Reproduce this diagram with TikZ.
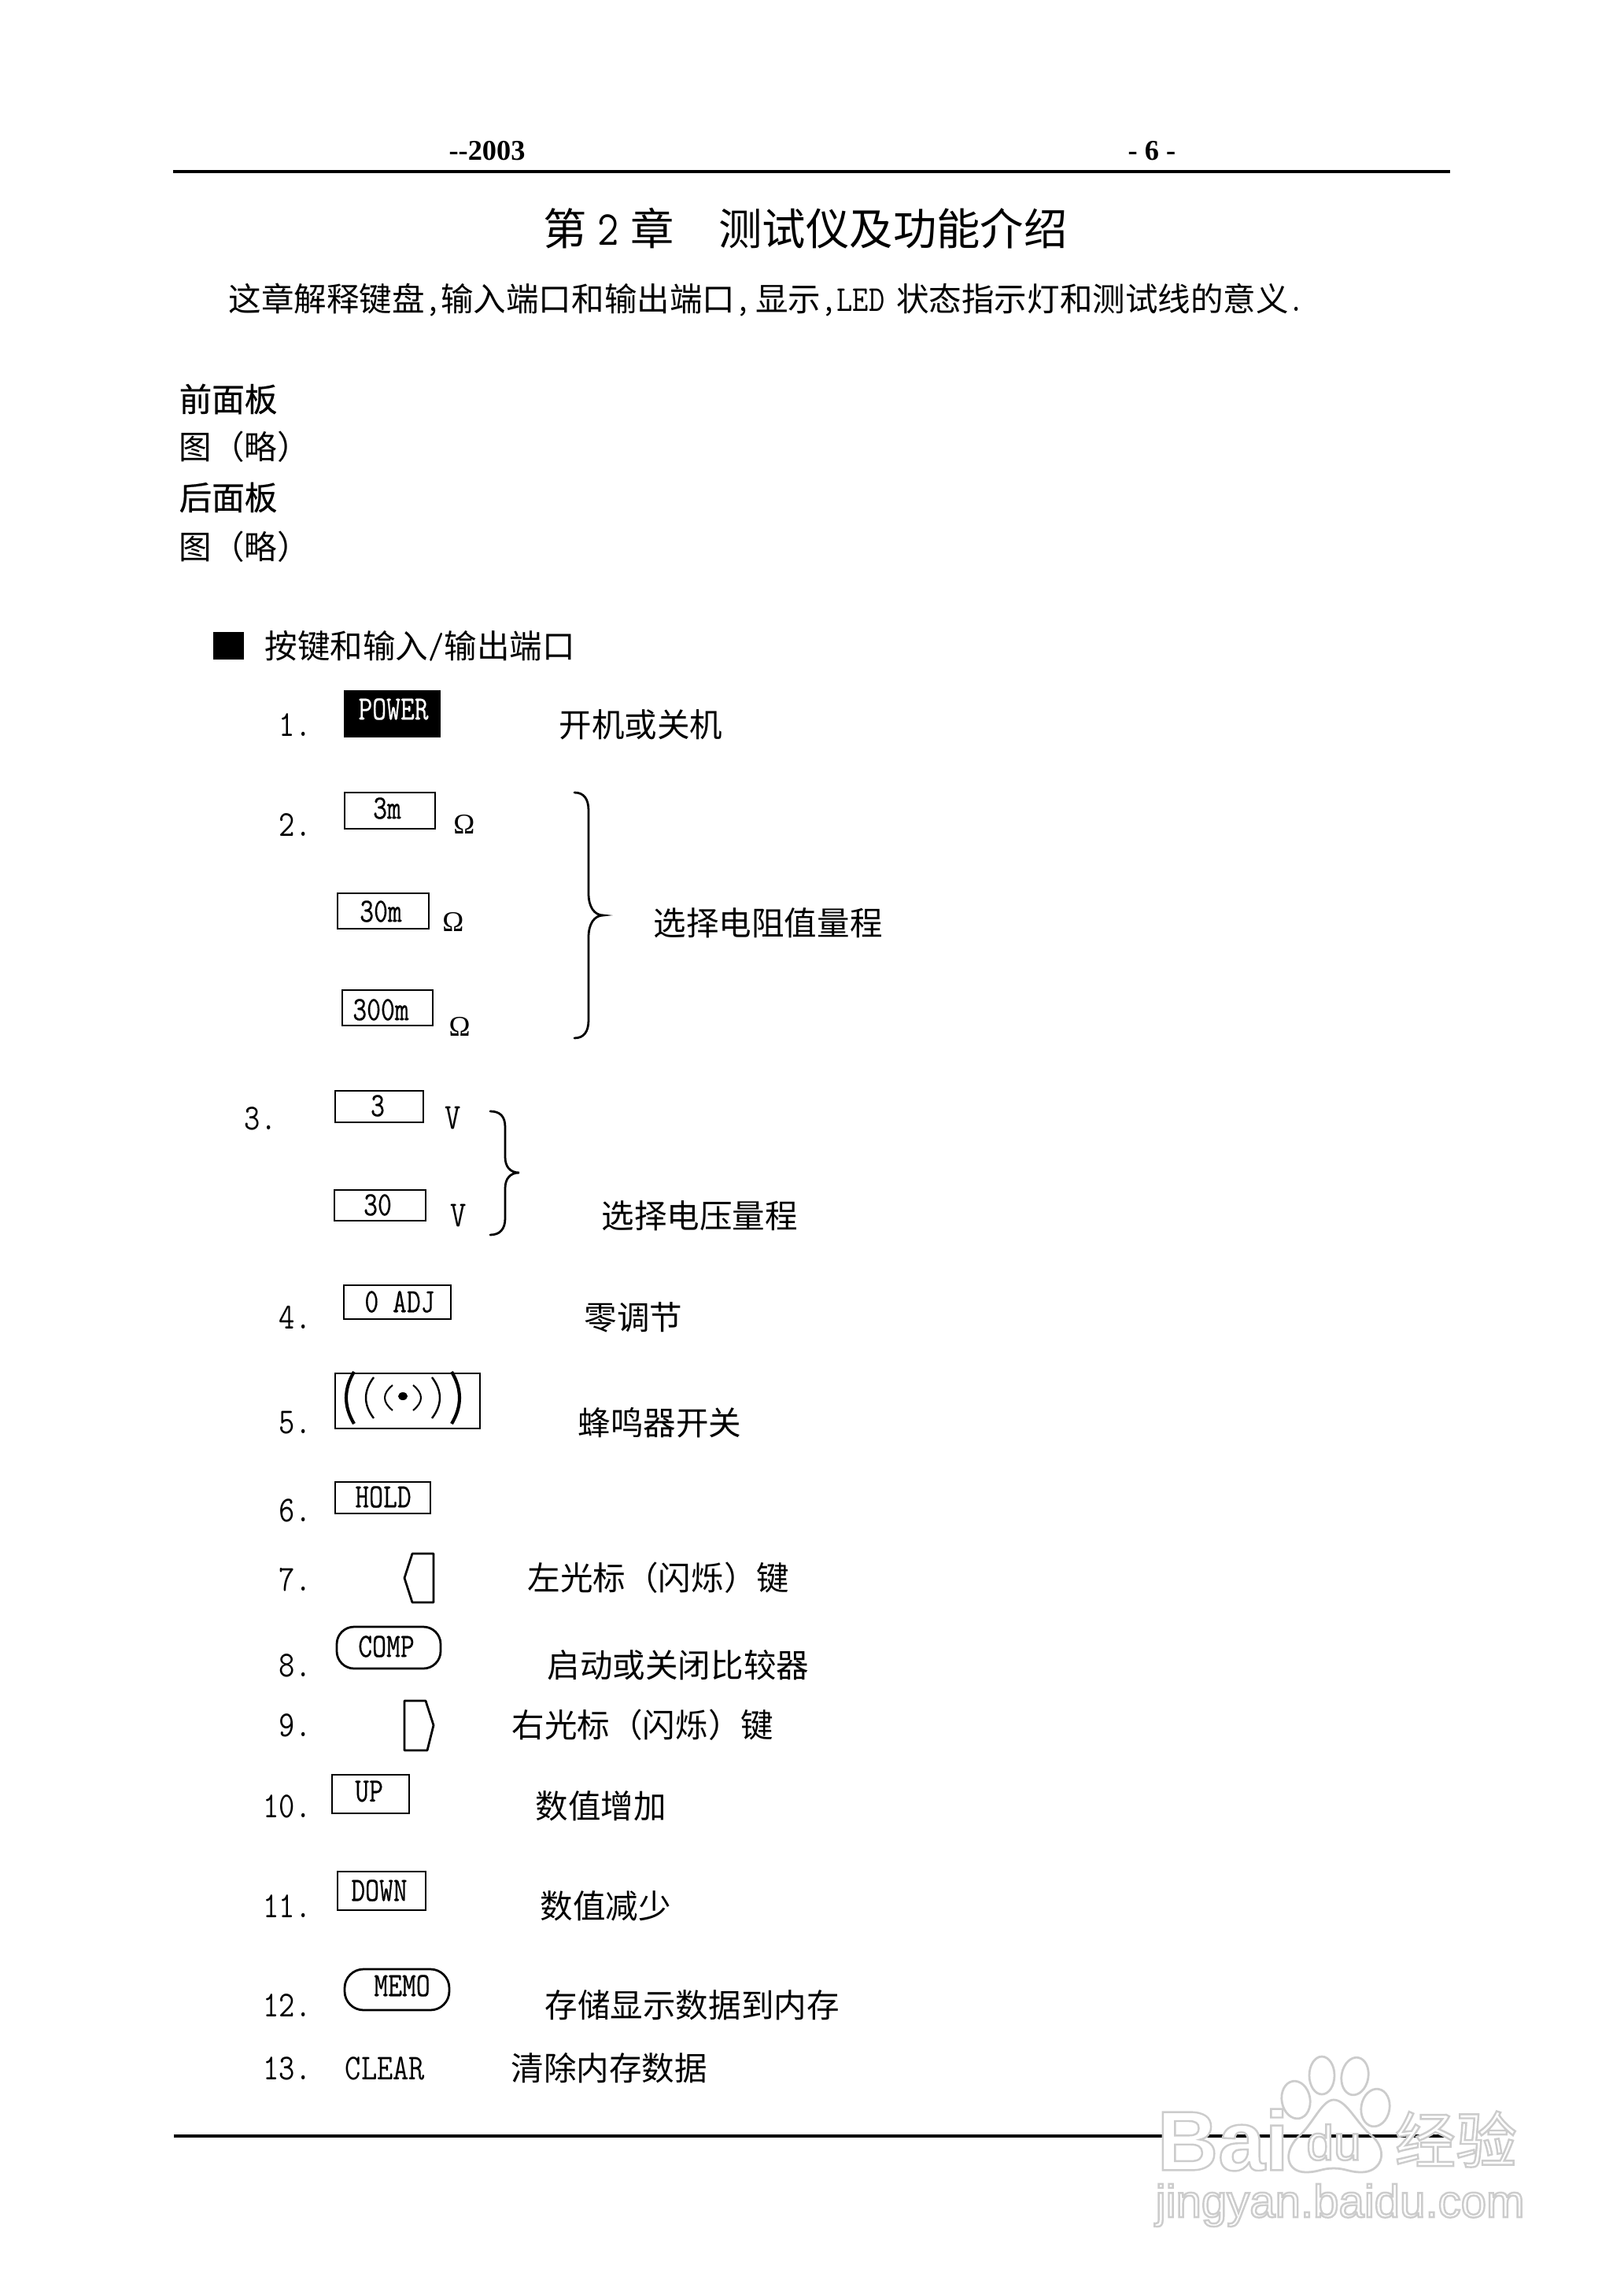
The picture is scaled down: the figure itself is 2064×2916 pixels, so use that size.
\documentclass[tikz,border=0pt]{standalone}
\usepackage{fontspec}
\setmainfont{Liberation Serif}
\newfontfamily\cjk{Noto Sans CJK SC}
\newfontfamily\cjkbold[FakeBold=0.5]{Noto Sans CJK SC}
\newfontfamily\wmfont{Liberation Sans}
\newfontfamily\numfont[FakeStretch=0.85]{Latin Modern Mono}
\newfontfamily\keyfont[FakeStretch=0.8,FakeBold=0.35]{Latin Modern Mono}
\newcommand{\lat}[1]{{\numfont\fontsize{13.4}{14}\selectfont #1}}
\newcommand{\wmtext}[1]{\special{pdf:code q 2 Tr 0.7 w 0.8 G 1 g}#1\special{pdf:code Q}}
\tikzset{
  body/.style={anchor=west,inner sep=0pt,font=\cjk\fontsize{12}{14}\selectfont},
  headtext/.style={anchor=west,inner sep=0pt,font=\cjkbold\fontsize{12}{14}\selectfont},
  itemnum/.style={anchor=east,inner sep=0pt,font=\numfont\fontsize{13.4}{14}\selectfont},
  keytext/.style={inner sep=0pt,font=\keyfont\fontsize{12.5}{14}\selectfont},
  unit/.style={inner sep=0pt,font=\rmfamily\fontsize{10.5}{12}\selectfont},
  keyline/.style={draw=black,line width=0.8pt},
  brace/.style={draw=black,line width=0.8pt,line cap=round},
  markline/.style={draw=black!20,line width=0.8pt},
  markmark/.style={inner sep=0pt},
}
\begin{document}
\begin{tikzpicture}[x=0.2888pt,y=-0.2888pt]
  \useasboundingbox (0,0) rectangle (2064,2916);
  \fill[white] (0,0) rectangle (2064,2916);
  % page head
  \node[inner sep=0pt,font=\bfseries\fontsize{10.5}{12}\selectfont] (headyear) at (619,192) {-{}-2003};
  \node[inner sep=0pt,font=\bfseries\fontsize{10.5}{12}\selectfont] (headpage) at (1464,192) {- 6 -};
  \coordinate (topl) at (220,218);
  \coordinate (topr) at (1843,218);
  \draw[line width=1pt] (topl) -- (topr);
  \node[inner sep=0pt,anchor=west,font=\cjk\fontsize{16}{18}\selectfont] (title) at (690,290) {第\hspace{0.25em}{\numfont\fontsize{18}{18}\selectfont 2}\hspace{0.25em}章\hspace{1.03em}测试仪及功能介绍};
  \node[body] (intro) at (290,381) {这章解释键盘\lat{,}输入端口和输出端口\lat{,}\hspace{1.6pt}显示\lat{,}\lat{LED}\hspace{1.6pt} 状态指示灯和测试线的意义\lat{.}};
  \node[headtext] (front) at (227,507) {前面板};
  \node[body] (frontfig) at (227,568) {图（略）};
  \node[headtext] (rear) at (227,632) {后面板};
  \node[body] (rearfig) at (227,695) {图（略）};
  \fill (271,803) rectangle (310,838);
  \node[body] (keyshead) at (336,821) {按键和输入\lat{/}输出端口};
  % 1
  \node[itemnum] (n1) at (396,921) {1.};
  \fill (437,877) rectangle (560,937);
  \node[keytext,text=white] (power) at (500,901) {POWER};
  \node[body] (t1) at (710,921) {开机或关机};
  % 2
  \node[itemnum] (n2) at (396,1048) {2.};
  \draw[keyline] (438,1007) rectangle (553,1053);
  \node[keytext] (k3m) at (492,1027) {3m};
  \node[unit] (u3m) at (590,1047) {Ω};
  \draw[keyline] (429,1135) rectangle (545,1180);
  \node[keytext] (k30m) at (484,1158) {30m};
  \node[unit] (u30m) at (576,1171) {Ω};
  \draw[keyline] (435,1258) rectangle (550,1303);
  \node[keytext] (k300m) at (484,1283) {300m};
  \node[unit] (u300m) at (584,1304) {Ω};
  \draw[brace] (730,1007) .. controls (742,1007) and (748,1015) .. (748,1030) -- (748,1135)
    .. controls (748,1152) and (755,1163) .. (767,1163) .. controls (755,1163) and (748,1174) .. (748,1191)
    -- (748,1296) .. controls (748,1311) and (742,1319) .. (730,1319);
  \node[body] (t2) at (830,1173) {选择电阻值量程};
  % 3
  \node[itemnum] (n3) at (352,1421) {3.};
  \draw[keyline] (426,1386) rectangle (538,1426);
  \node[keytext] (k3) at (480,1405) {3};
  \node[inner sep=0pt,font=\numfont\fontsize{13.4}{14}\selectfont] (uv3) at (576,1421) {V};
  \draw[keyline] (425,1512) rectangle (541,1551);
  \node[keytext] (k30) at (480,1531) {30};
  \node[inner sep=0pt,font=\numfont\fontsize{13.4}{14}\selectfont] (uv30) at (583,1545) {V};
  \draw[brace] (623,1412) .. controls (635,1412) and (642,1418) .. (642,1432) -- (642,1470)
    .. controls (642,1482) and (648,1490) .. (660,1490) .. controls (648,1490) and (642,1498) .. (642,1510)
    -- (642,1548) .. controls (642,1562) and (635,1569) .. (623,1569);
  \node[body] (t3) at (764,1545) {选择电压量程};
  % 4
  \node[itemnum] (n4) at (396,1674) {4.};
  \draw[keyline] (437,1633) rectangle (573,1676);
  \node[keytext] (k0adj) at (508,1654) {0 ADJ};
  \node[body] (t4) at (742,1674) {零调节};
  % 5
  \node[itemnum] (n5) at (396,1808) {5.};
  \draw[keyline] (426,1745) rectangle (610,1815);
  \foreach \h/\v/\w in {23/16/0.6, 47/26/0.7, 72/33/1.2} {
    \draw[line width=\w pt] ({512-\h+10},{1776-\v}) .. controls ({512-\h-3.3},{1776-\v/3}) and ({512-\h-3.3},{1776+\v/3}) .. ({512-\h+10},{1776+\v});
    \draw[line width=\w pt] ({512+\h-10},{1776-\v}) .. controls ({512+\h+3.3},{1776-\v/3}) and ({512+\h+3.3},{1776+\v/3}) .. ({512+\h-10},{1776+\v});
  }
  \fill (512,1774) ellipse [x radius=6,y radius=5];
  \node[body] (t5) at (734,1808) {蜂鸣器开关};
  % 6
  \node[itemnum] (n6) at (396,1919) {6.};
  \draw[keyline] (426,1883) rectangle (547,1923);
  \node[keytext] (khold) at (487,1902) {HOLD};
  % 7
  \node[itemnum] (n7) at (396,2007) {7.};
  \draw[keyline,line join=round] (524,1974) -- (551,1974) -- (551,2036) -- (524,2036) -- (514,2005) -- cycle;
  \node[body] (t7) at (670,2005) {左光标（闪烁）键};
  % 8
  \node[itemnum] (n8) at (396,2116) {8.};
  \draw[keyline,rounded corners=22*0.2888pt] (428,2067) rectangle (560,2120);
  \node[keytext] (kcomp) at (491,2092) {COMP};
  \node[body] (t8) at (695,2116) {启动或关闭比较器};
  % 9
  \node[itemnum] (n9) at (396,2192) {9.};
  \draw[keyline,line join=round] (514,2161) -- (541,2161) -- (551,2192) -- (543,2224) -- (514,2224) -- cycle;
  \node[body] (t9) at (650,2192) {右光标（闪烁）键};
  % 10
  \node[itemnum] (n10) at (396,2295) {10.};
  \draw[keyline] (422,2255) rectangle (520,2304);
  \node[keytext] (kup) at (469,2276) {UP};
  \node[body] (t10) at (680,2295) {数值增加};
  % 11
  \node[itemnum] (n11) at (396,2422) {11.};
  \draw[keyline] (429,2378) rectangle (541,2427);
  \node[keytext] (kdown) at (482,2402) {DOWN};
  \node[body] (t11) at (686,2422) {数值减少};
  % 12
  \node[itemnum] (n12) at (396,2548) {12.};
  \draw[keyline,rounded corners=24*0.2888pt] (438,2502) rectangle (571,2554);
  \node[keytext] (kmemo) at (511,2523) {MEMO};
  \node[body] (t12) at (692,2548) {存储显示数据到内存};
  % 13
  \node[itemnum] (n13) at (396,2628) {13.};
  \node[itemnum,anchor=west] (kclear) at (438,2628) {CLEAR};
  \node[body] (t13) at (649,2628) {清除内存数据};
  % page foot
  \coordinate (footl) at (221,2714);
  \coordinate (footr) at (1843,2714);
  \draw[line width=1pt] (footl) -- (footr);
  % watermark
  \foreach \x/\y/\a/\b/\r in {1680/2637/16/24/0, 1722/2638/17/24/-10, 1647/2668/18/24/10, 1748/2678/18/24/-10} {
    \draw[markline] (\x,\y) ellipse [x radius=\a,y radius=\b,rotate=\r];
  }
  \draw[markline] (1695,2668) .. controls (1712,2668) and (1725,2700) .. (1745,2715)
    .. controls (1765,2735) and (1755,2760) .. (1730,2760) .. controls (1715,2760) and (1710,2755) .. (1695,2755)
    .. controls (1680,2755) and (1675,2760) .. (1660,2760) .. controls (1635,2760) and (1630,2735) .. (1650,2715)
    .. controls (1668,2700) and (1680,2668) .. (1695,2668);
  \node[markmark,anchor=west,font=\wmfont\bfseries\fontsize{31}{33}\selectfont] (wmbai) at (1470,2719) {\wmtext{Bai}};
  \node[markmark,font=\wmfont\fontsize{18}{20}\selectfont] (wmdu) at (1695,2722) {\wmtext{du}};
  \node[markmark,anchor=west,font=\cjk\fontsize{22.4}{24}\selectfont] (wmjy) at (1772,2718) {\wmtext{经验}};
  \node[markmark,anchor=west,font=\wmfont\fontsize{16.8}{18}\selectfont] (wmurl) at (1468,2802) {\wmtext{jingyan.baidu.com}};
\end{tikzpicture}
\end{document}
